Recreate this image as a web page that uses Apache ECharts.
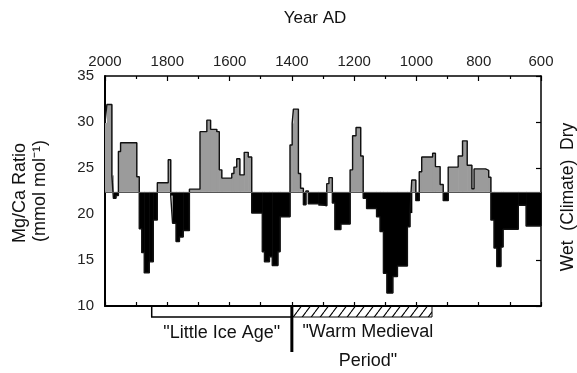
<!DOCTYPE html>
<html>
<head>
<meta charset="utf-8">
<script src="https://cdn.jsdelivr.net/npm/echarts@6/dist/echarts.min.js"></script>
<style>
  html, body { margin: 0; padding: 0; background: #fff; }
  #chart { width: 577px; height: 373px; }
</style>
</head>
<body>
<div id="chart"></div>
<script>
// year (AD) where each step starts, and the Mg/Ca ratio held until the next step
const stepYears = [2000, 1994, 1978, 1973, 1965, 1957, 1950, 1898, 1890, 1882, 1874, 1858, 1845, 1832, 1797, 1789,
  1783, 1772, 1761, 1749, 1729, 1695, 1673, 1661, 1641, 1633, 1625, 1593, 1586, 1577, 1567, 1553, 1540, 1529,
  1495, 1488, 1472, 1463, 1445, 1438, 1406, 1399, 1395, 1379, 1372, 1363, 1355, 1347, 1315, 1288, 1281, 1270,
  1262, 1243, 1213, 1205, 1194, 1179, 1171, 1160, 1128, 1117, 1106, 1095, 1076, 1061, 1029, 1021, 1015, 1002,
  991, 983, 948, 939, 924, 914, 898, 866, 852, 837, 822, 815, 778, 768, 761, 751, 742, 729, 722, 673, 648]
const mgCa = [29.9, 31.9, 24.2, 21.7, 22.0, 26.8, 27.75, 24.05, 18.4, 15.8, 13.6, 14.8, 19.35, 23.4, 25.9, 22.0,
  19.0, 17.0, 17.5, 18.2, 22.7, 28.95, 30.2, 29.2, 28.95, 24.8, 23.9, 24.4, 25.1, 26.0, 24.25, 26.7, 26.2, 20.1,
  15.9, 14.8, 15.35, 14.4, 15.9, 19.7, 27.5, 29.85, 31.4, 24.4, 22.8, 21.0, 22.5, 21.1, 20.9, 23.3, 23.95, 21.2,
  18.3, 18.9, 24.8, 28.5, 29.4, 26.3, 21.7, 20.6, 19.7, 18.1, 13.55, 11.4, 13.2, 14.35, 18.6, 20.1, 23.7, 21.45,
  24.6, 26.2, 26.6, 25.15, 23.2, 21.45, 25.1, 26.3, 27.95, 25.3, 22.75, 24.9, 24.75, 24.0, 19.35, 16.3, 14.3,
  16.4, 18.35, 20.95, 18.7]
const endYear = 600
const baseline = 22.4
const littleIceAge = [1850, 1400]
const warmMedieval = [1400, 950]

const font = 'Liberation Sans, Arial, sans-serif'
const lineData = stepYears.map((y, i) => [y, mgCa[i]])
lineData.push([endYear, mgCa[mgCa.length - 1]])
// [start year, end year, value] for the filled steps
const stepData = stepYears.map((y, i) => [y, i + 1 < stepYears.length ? stepYears[i + 1] : endYear, mgCa[i]])

const chart = echarts.init(document.getElementById('chart'))

// diagonal hatch for the medieval period bar
const hatch = document.createElement('canvas')
hatch.width = 9
hatch.height = 12
const hc = hatch.getContext('2d')
hc.strokeStyle = '#000'
hc.lineWidth = 1.1
hc.beginPath()
hc.moveTo(0, 12); hc.lineTo(9, 0)
hc.moveTo(-9, 12); hc.lineTo(0, 0)
hc.moveTo(9, 12); hc.lineTo(18, 0)
hc.stroke()

const renderStep = (params, api) => {
  const a = api.coord([api.value(0), api.value(2)])
  const b = api.coord([api.value(1), baseline])
  const x = Math.min(a[0], b[0])
  const w = Math.abs(b[0] - a[0]) + 0.6
  const y = Math.min(a[1], b[1])
  const h = Math.abs(b[1] - a[1])
  return {
    type: 'rect',
    shape: { x: x, y: y, width: w, height: h },
    style: { fill: api.value(2) >= baseline ? '#9b9b9b' : '#000' }
  }
}

const textItems = [
  {
    type: 'text', x: 315, y: 18,
    style: { text: 'Year AD', fontSize: 17, fontFamily: font, fill: '#111', align: 'center', verticalAlign: 'middle' }
  },
  {
    type: 'text', x: 20, y: 193, rotation: Math.PI / 2,
    style: { text: 'Mg/Ca Ratio', fontSize: 18, fontFamily: font, fill: '#111', align: 'center', verticalAlign: 'middle' }
  },
  {
    type: 'text', x: 40, y: 191, rotation: Math.PI / 2,
    style: { text: '(mmol mol⁻¹)', fontSize: 18, fontFamily: font, fill: '#111', align: 'center', verticalAlign: 'middle' }
  },
  {
    type: 'text', x: 568, y: 197, rotation: Math.PI / 2,
    style: { text: 'Wet  (Climate)  Dry', fontSize: 17.5, fontFamily: font, fill: '#111', align: 'center', verticalAlign: 'middle' }
  }
]

chart.setOption({
  animation: false,
  grid: { left: 105, right: 36, top: 76, bottom: 67 },
  xAxis: [
    {
      type: 'value', position: 'top', min: 600, max: 2000, interval: 200, inverse: true,
      axisLine: { lineStyle: { color: '#000', width: 1.5 } },
      axisTick: { inside: true, length: 5, lineStyle: { color: '#000', width: 1.2 } },
      minorTick: { show: true, splitNumber: 2, length: 3, lineStyle: { color: '#000', width: 1.2 } },
      axisLabel: { color: '#222', fontSize: 15, fontFamily: font, margin: 7, formatter: v => String(v) },
      splitLine: { show: false }
    },
    {
      type: 'value', position: 'bottom', min: 600, max: 2000, interval: 100, inverse: true,
      axisLine: { lineStyle: { color: '#000', width: 2 } },
      axisTick: { inside: true, length: 4, lineStyle: { color: '#000', width: 1.2 } },
      axisLabel: { show: false },
      splitLine: { show: false }
    }
  ],
  yAxis: [
    {
      type: 'value', position: 'left', min: 10, max: 35, interval: 5,
      axisLine: { show: true, lineStyle: { color: '#000', width: 2 } },
      axisTick: { show: false },
      axisLabel: { color: '#222', fontSize: 15, fontFamily: font, margin: 11 },
      splitLine: { show: false }
    },
    {
      type: 'value', position: 'right', min: 10, max: 35, interval: 5,
      axisLine: { show: true, lineStyle: { color: '#000', width: 1.5 } },
      axisTick: { show: true, inside: true, length: 5, lineStyle: { color: '#000', width: 1.2 } },
      axisLabel: { show: false },
      splitLine: { show: false }
    }
  ],
  series: [
    {
      type: 'custom',
      data: stepData,
      renderItem: renderStep,
      encode: { x: [0, 1], y: 2 },
      z: 2
    },
    {
      type: 'line',
      step: 'end',
      data: lineData,
      showSymbol: false,
      lineStyle: { color: '#111', width: 1.4 },
      markLine: {
        silent: true,
        symbol: 'none',
        label: { show: false },
        lineStyle: { color: '#555', width: 1, type: 'solid' },
        data: [{ yAxis: baseline }]
      },
      z: 3
    }
  ],
  graphic: textItems
})

// period bars under the plot, placed with the x scale
const px = y => chart.convertToPixel({ xAxisIndex: 0 }, y)
const yTop = chart.convertToPixel({ yAxisIndex: 0 }, 10)
const liaA = px(littleIceAge[0]), liaB = px(littleIceAge[1])
const wmA = px(warmMedieval[0]), wmB = px(warmMedieval[1])
chart.setOption({
  graphic: textItems.concat([
    {
      type: 'rect',
      shape: { x: liaA, y: yTop, width: liaB - liaA, height: 11 },
      style: { fill: '#fff', stroke: '#000', lineWidth: 1.5 }
    },
    {
      type: 'rect',
      shape: { x: wmA, y: yTop, width: wmB - wmA, height: 11 },
      style: { fill: { image: hatch, repeat: 'repeat' }, stroke: '#000', lineWidth: 1 }
    },
    {
      type: 'line',
      shape: { x1: liaB, y1: yTop - 1, x2: liaB, y2: yTop + 46 },
      style: { stroke: '#000', lineWidth: 3 }
    },
    {
      type: 'text', x: (liaA + liaB) / 2, y: yTop + 27,
      style: { text: '"Little Ice Age"', fontSize: 18, fontFamily: font, fill: '#111', align: 'center', verticalAlign: 'middle' }
    },
    {
      type: 'text', x: wmA + 76, y: yTop + 41,
      style: { text: '"Warm Medieval\nPeriod"', fontSize: 18, lineHeight: 29, fontFamily: font, fill: '#111', align: 'center', verticalAlign: 'middle' }
    }
  ])
})
</script>
</body>
</html>
